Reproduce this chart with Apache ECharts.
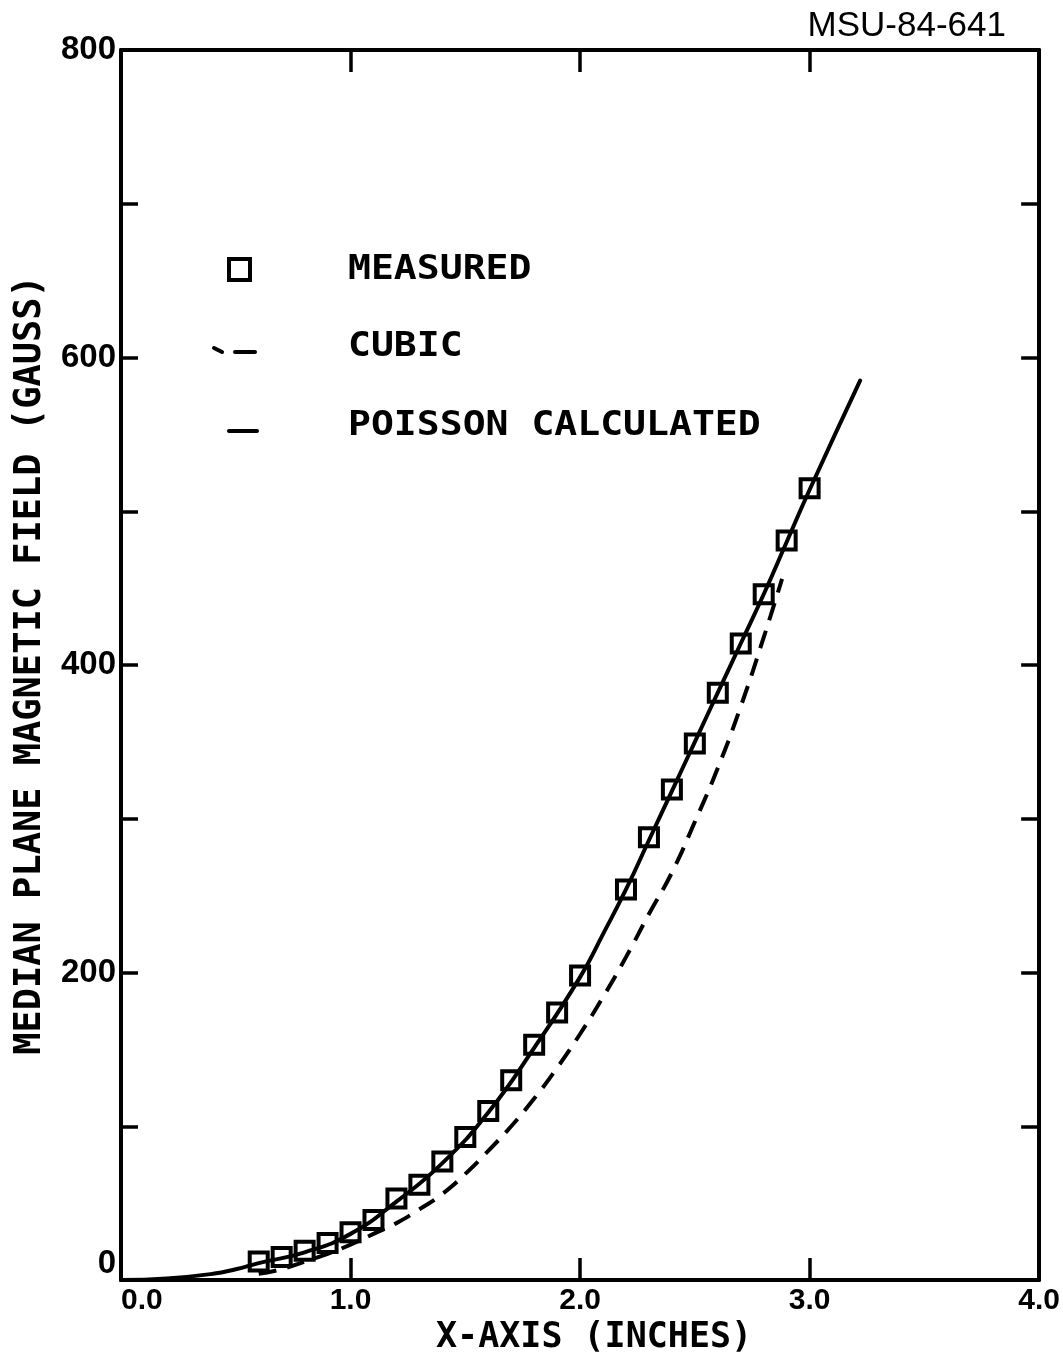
<!DOCTYPE html>
<html>
<head>
<meta charset="utf-8">
<script src="https://cdn.jsdelivr.net/npm/echarts@6/dist/echarts.min.js"></script>
<style>
  html, body { margin: 0; padding: 0; background: #ffffff; }
  #chart { width: 1063px; height: 1364px; }
</style>
</head>
<body>
<div id="chart"></div>
<script>
// Tick labels
const xTickLabels = ['0.0', '1.0', '2.0', '3.0', '4.0'];
const yTickLabels = ['0', '200', '400', '600', '800'];

// Measured median-plane field (gauss) vs. position (inches)
const measuredX = [0.6, 0.7, 0.8, 0.9, 1.0, 1.1, 1.2, 1.3, 1.4, 1.5, 1.6, 1.7, 1.8, 1.9, 2.0,
                   2.2, 2.3, 2.4, 2.5, 2.6, 2.7, 2.8, 2.9, 3.0];
const measuredY = [12, 15, 19, 24, 31, 39, 53, 62, 77, 93, 110, 130, 153, 174, 198,
                   254, 288, 319, 349, 382, 414, 446, 481, 515];

// Cubic fit (dashed)
const cubicX = [0.6, 0.7, 0.8, 0.9, 1.0, 1.1, 1.2, 1.3, 1.4, 1.5, 1.6, 1.7, 1.8, 1.9, 2.0,
                2.1, 2.2, 2.3, 2.4, 2.5, 2.6, 2.7, 2.8, 2.88];
const cubicY = [4, 7, 12, 17, 23, 30, 37, 46, 56, 69, 84, 100, 118, 138, 160,
                184, 210, 238, 265, 298, 333, 373, 418, 456];

// POISSON calculation (solid)
const poissonX = [0, 0.2, 0.4, 0.5, 0.6, 0.8, 1.0, 1.2, 1.4, 1.6, 1.8, 2.0, 2.1, 2.2, 2.3, 2.4,
                  2.5, 2.6, 2.7, 2.8, 2.9, 3.0, 3.22];
const poissonY = [0, 1, 4, 7, 11, 18, 30, 51, 76, 109, 151, 197, 225, 254, 286, 318,
                  350, 382, 414, 446, 480, 514, 585];

const pairs = (xs, ys) => xs.map((x, i) => [x, ys[i]]);

const numFont = '"Liberation Sans", Arial, sans-serif';
const monoFont = '"DejaVu Sans Mono", monospace';

const chart = echarts.init(document.getElementById('chart'), null, { renderer: 'canvas' });

const tickStyle = { color: '#000', width: 3.5 };
const lineAxis = { show: true, onZero: false, lineStyle: { color: '#000', width: 4 } };

chart.setOption({
  animation: false,
  backgroundColor: '#ffffff',
  grid: { left: 121, right: 22, top: 50, bottom: 84, containLabel: false },
  xAxis: [
    {
      type: 'value', min: 0, max: 4, interval: 1, position: 'bottom',
      axisLine: lineAxis,
      axisTick: { show: true, inside: true, length: 22, lineStyle: tickStyle },
      splitLine: { show: false },
      axisLabel: {
        margin: 6, color: '#000', fontFamily: numFont, fontWeight: 'bold', fontSize: 30,
        alignMinLabel: 'left',
        formatter: v => xTickLabels[Math.round(v)] || ''
      },
      name: 'X-AXIS (INCHES)', nameLocation: 'middle', nameGap: 40,
      nameTextStyle: { color: '#000', fontFamily: monoFont, fontWeight: 'bold', fontSize: 35,
                       padding: [0, 0, 0, 28] }
    },
    {
      type: 'value', min: 0, max: 4, interval: 1, position: 'top',
      axisLine: lineAxis,
      axisTick: { show: true, inside: true, length: 22, lineStyle: tickStyle },
      splitLine: { show: false },
      axisLabel: { show: false }
    }
  ],
  yAxis: [
    {
      type: 'value', min: 0, max: 800, interval: 100, position: 'left',
      axisLine: lineAxis,
      axisTick: { show: true, inside: true, length: 17, lineStyle: tickStyle },
      splitLine: { show: false },
      axisLabel: {
        margin: 5, color: '#000', fontFamily: numFont, fontWeight: 'bold', fontSize: 33,
        verticalAlignMinLabel: 'bottom',
        formatter: v => (v % 200 === 0 ? yTickLabels[v / 200] : '')
      },
      name: 'MEDIAN PLANE MAGNETIC FIELD (GAUSS)', nameLocation: 'middle', nameGap: 72,
      nameRotate: 90,
      nameTextStyle: { color: '#000', fontFamily: monoFont, fontWeight: 'bold', fontSize: 37 }
    },
    {
      type: 'value', min: 0, max: 800, interval: 100, position: 'right',
      axisLine: lineAxis,
      axisTick: { show: true, inside: true, length: 18, lineStyle: tickStyle },
      splitLine: { show: false },
      axisLabel: { show: false }
    }
  ],
  series: [
    {
      name: 'POISSON CALCULATED', type: 'line', xAxisIndex: 0, yAxisIndex: 0,
      data: pairs(poissonX, poissonY), smooth: true, showSymbol: false,
      lineStyle: { color: '#000', width: 4, cap: 'round' }, z: 2
    },
    {
      name: 'CUBIC', type: 'line', xAxisIndex: 0, yAxisIndex: 0,
      data: pairs(cubicX, cubicY), smooth: true, showSymbol: false,
      lineStyle: { color: '#000', width: 4, type: [18, 11], cap: 'butt' }, z: 2
    },
    {
      name: 'MEASURED', type: 'scatter', xAxisIndex: 0, yAxisIndex: 0,
      data: pairs(measuredX, measuredY), symbol: 'rect', symbolSize: 18,
      itemStyle: { color: 'rgba(0,0,0,0)', borderColor: '#000', borderWidth: 4, opacity: 1 }, z: 3
    }
  ],
  graphic: [
    // legend
    { type: 'rect', shape: { x: 229, y: 259, width: 21, height: 21 },
      style: { fill: 'none', stroke: '#000', lineWidth: 4 } },
    { type: 'text', x: 348, y: 270, scaleX: 1.12,
      style: { text: 'MEASURED', font: 'bold 34px "DejaVu Sans Mono"', fill: '#000', align: 'left', verticalAlign: 'middle' } },
    { type: 'line', shape: { x1: 214, y1: 348, x2: 222, y2: 352 },
      style: { stroke: '#000', lineWidth: 4, lineCap: 'round' } },
    { type: 'line', shape: { x1: 235, y1: 352, x2: 255, y2: 352 },
      style: { stroke: '#000', lineWidth: 4, lineCap: 'round' } },
    { type: 'text', x: 348, y: 347, scaleX: 1.12,
      style: { text: 'CUBIC', font: 'bold 34px "DejaVu Sans Mono"', fill: '#000', align: 'left', verticalAlign: 'middle' } },
    { type: 'line', shape: { x1: 229, y1: 431, x2: 257, y2: 431 },
      style: { stroke: '#000', lineWidth: 4, lineCap: 'round' } },
    { type: 'text', x: 348, y: 426, scaleX: 1.12,
      style: { text: 'POISSON CALCULATED', font: 'bold 34px "DejaVu Sans Mono"', fill: '#000', align: 'left', verticalAlign: 'middle' } },
    // figure number
    { type: 'text', x: 1006, y: 26,
      style: { text: 'MSU-84-641', font: '35px "Liberation Sans"', fill: '#000', align: 'right', verticalAlign: 'middle' } }
  ]
});
</script>
</body>
</html>
